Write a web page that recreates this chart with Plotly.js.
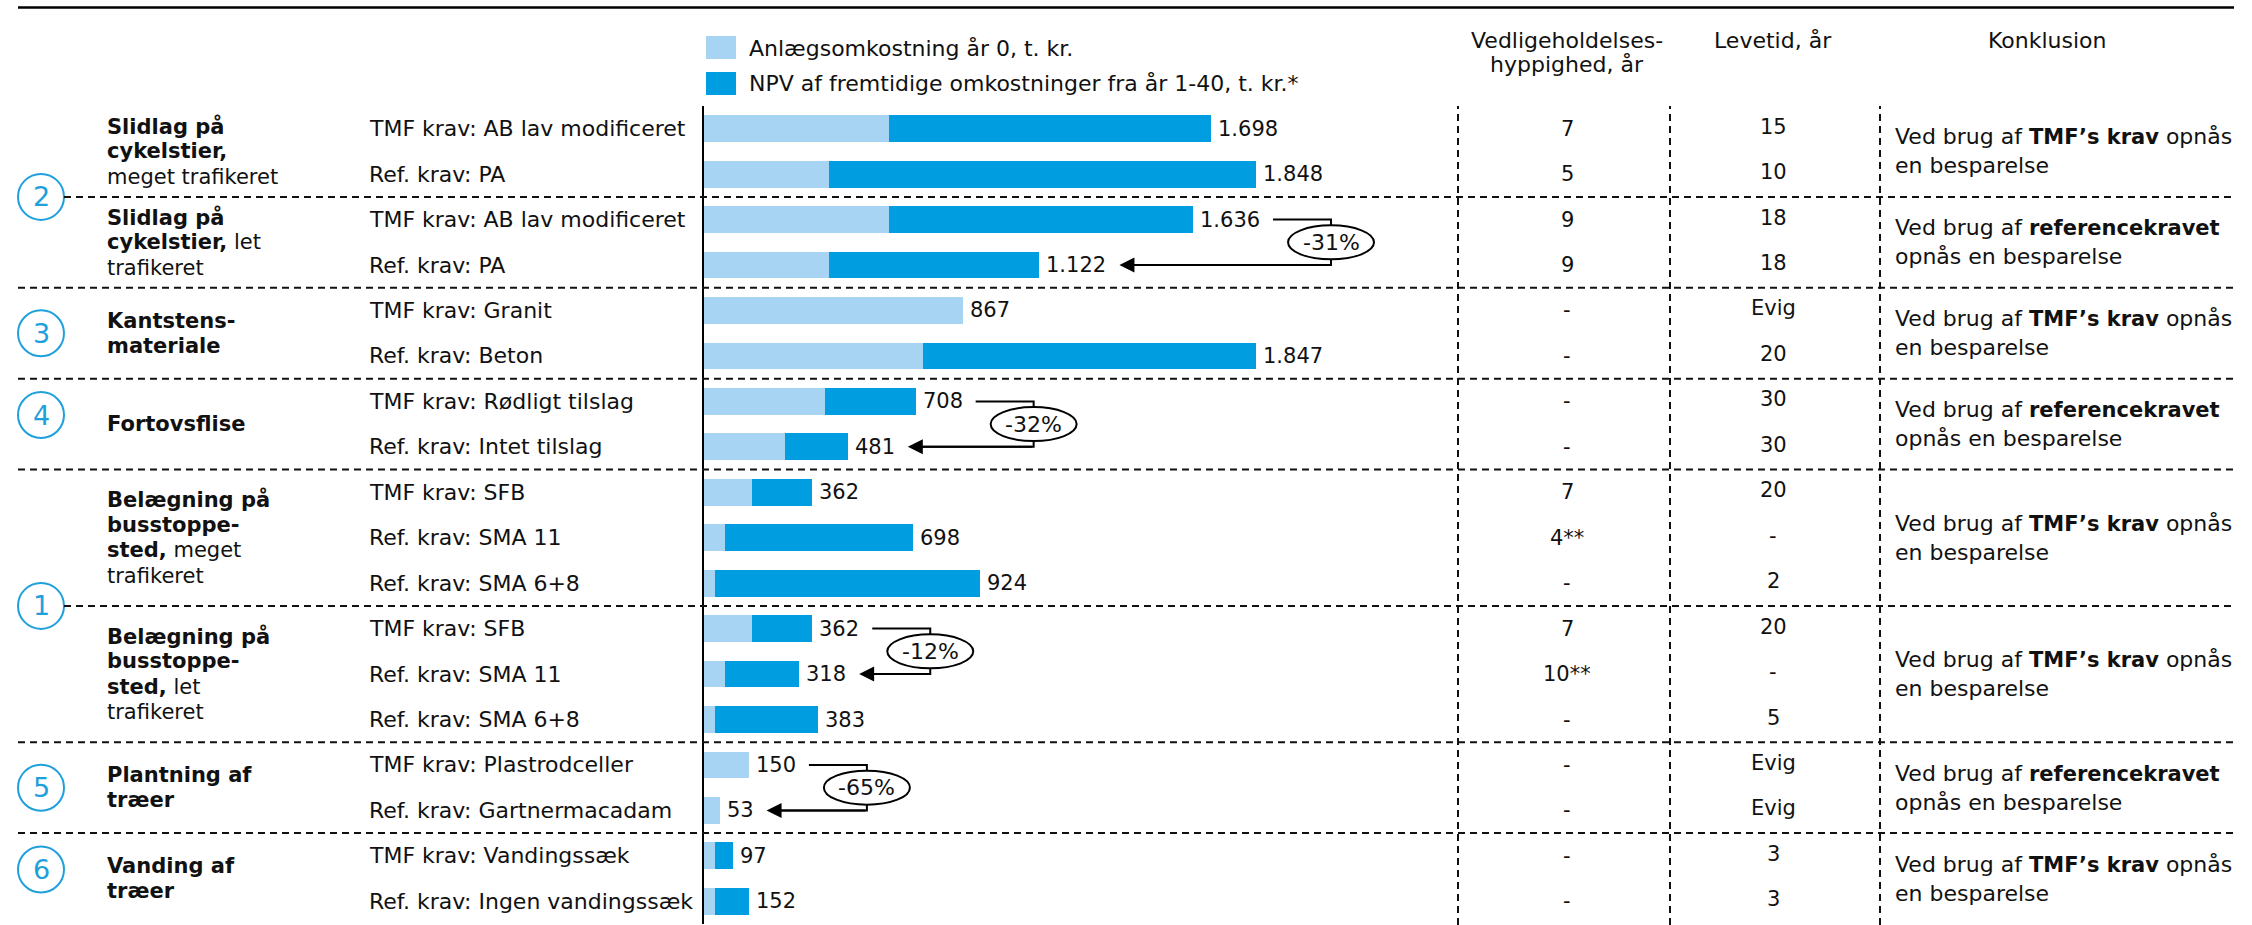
<!DOCTYPE html>
<html>
<head>
<meta charset="utf-8">
<script src="https://cdn.plot.ly/plotly-3.0.1.min.js"></script>
<style>
html,body{margin:0;padding:0;background:#fff;}
#chart{width:2252px;height:925px;}
</style>
</head>
<body>
<div id="chart"></div>
<script>
// ---------------- DATA ----------------
const rowLabels = [
  'TMF krav: AB lav modificeret', 'Ref. krav: PA',
  'TMF krav: AB lav modificeret', 'Ref. krav: PA',
  'TMF krav: Granit', 'Ref. krav: Beton',
  'TMF krav: Rødligt tilslag', 'Ref. krav: Intet tilslag',
  'TMF krav: SFB', 'Ref. krav: SMA 11', 'Ref. krav: SMA 6+8',
  'TMF krav: SFB', 'Ref. krav: SMA 11', 'Ref. krav: SMA 6+8',
  'TMF krav: Plastrodceller', 'Ref. krav: Gartnermacadam',
  'TMF krav: Vandingssæk', 'Ref. krav: Ingen vandingssæk'
];
// Anlægsomkostning år 0, t. kr.
const anlaeg = [619, 417, 619, 417, 867, 732, 404, 270, 162, 70, 36, 162, 70, 36, 150, 53, 36, 36];
// NPV af fremtidige omkostninger fra år 1-40, t. kr.
const npv    = [1079, 1431, 1017, 705, 0, 1115, 304, 211, 200, 628, 888, 200, 248, 347, 0, 0, 61, 116];

const vedligehold = ['7','5','9','9','-','-','-','-','7','4**','-','7','10**','-','-','-','-','-'];
const levetid     = ['15','10','18','18','Evig','20','30','30','20','-','2','20','-','5','Evig','Evig','3','3'];

const groupRows = [[0,1],[2,3],[4,5],[6,7],[8,9,10],[11,12,13],[14,15],[16,17]];
const groupLines = [
  [['Slidlag på',''], ['cykelstier,',''], ['','meget trafikeret']],
  [['Slidlag på',''], ['cykelstier,',' let'], ['','trafikeret']],
  [['Kantstens-',''], ['materiale','']],
  [['Fortovsflise','']],
  [['Belægning på',''], ['busstoppe-',''], ['sted,',' meget'], ['','trafikeret']],
  [['Belægning på',''], ['busstoppe-',''], ['sted,',' let'], ['','trafikeret']],
  [['Plantning af',''], ['træer','']],
  [['Vanding af',''], ['træer','']]
];
const conclusions = ['tmf','ref','tmf','ref','tmf','tmf','ref','tmf'];
const conclusionParts = {
  tmf: ['Ved brug af ', 'TMF’s krav', ' opnås', 'en besparelse'],
  ref: ['Ved brug af ', 'referencekravet', '', 'opnås en besparelse']
};
const savings = [
  {top: 2,  bottom: 3,  label: '-31%'},
  {top: 6,  bottom: 7,  label: '-32%'},
  {top: 11, bottom: 12, label: '-12%'},
  {top: 14, bottom: 15, label: '-65%'}
];
const circleNumbers = ['2','3','4','1','5','6'];
const legendNames = ['Anlægsomkostning år 0, t. kr.', 'NPV af fremtidige omkostninger fra år 1-40, t. kr.*'];
const headers = {vedl: ['Vedligeholdelses-', 'hyppighed, år'], lev: 'Levetid, år', konk: 'Konklusion'};

// ---------------- LAYOUT CONFIG ----------------
const W = 2252, H = 925;
const PLOT = {x0: 704, x1: 1458, y0: 106, y1: 924};
const XMAX = 2523;
const pxPerUnit = (PLOT.x1 - PLOT.x0) / XMAX;
const circleRowPos = [1.5, 4.5, 6.3, 10.5, 14.5, 16.3];
const sepRows = [1.5, 3.5, 5.5, 7.5, 10.5, 13.5, 15.5];
const colX = {label: 105, row: 367, vedl: 1567, lev: 1773, konk: 1893, konkHead: 2047, circle: 41};
const vLines = [1458, 1670, 1880];
const LIGHT = '#a8d4f3', DARK = '#009ee0', CIRC = '#1ea0dc';
const FONT = 'DejaVu Sans, Verdana, sans-serif';
const FS = 21;      // numbers
const FT = 22;      // regular text
const FB = 21;      // bold text
const FG = 21;      // group label text

const px = p => p / W;
const py = p => 1 - p / H;
const fmt = v => String(v).replace(/\B(?=(\d{3})+(?!\d))/g, '.');
const textW = s => { let w = 0; for (const c of s) w += (c === '.' ? 0.318 : 0.636); return w * FS; };
const bold = s => s ? `<span style="font-weight:bold;font-size:${FB}px">${s}</span>` : '';

const rows = rowLabels.map((_, i) => i);
const totals = anlaeg.map((v, i) => v + npv[i]);

const traces = [
  {type: 'bar', orientation: 'h', name: legendNames[0], y: rows, x: anlaeg,
   marker: {color: LIGHT, line: {width: 0}}, hoverinfo: 'skip'},
  {type: 'bar', orientation: 'h', name: legendNames[1], y: rows, x: npv,
   marker: {color: DARK, line: {width: 0}}, hoverinfo: 'skip'}
];

const fontN = {family: FONT, size: FS, color: '#111'};
const fontT = {family: FONT, size: FT, color: '#111'};
const fontG = {family: FONT, size: FG, color: '#111'};
const ann = [];
const shapes = [];

// row labels, values, table columns
rows.forEach(i => {
  ann.push({xref: 'paper', x: px(colX.row), xanchor: 'left', yref: 'y', y: i, yanchor: 'middle',
            text: rowLabels[i], showarrow: false, font: fontT});
  ann.push({xref: 'x', x: totals[i], xshift: 5, xanchor: 'left', yref: 'y', y: i, yanchor: 'middle',
            text: fmt(totals[i]), showarrow: false, font: fontN});
  ann.push({xref: 'paper', x: px(colX.vedl), xanchor: 'center', yref: 'y', y: i, yanchor: 'middle',
            text: vedligehold[i], showarrow: false, font: fontN});
  ann.push({xref: 'paper', x: px(colX.lev), xanchor: 'center', yref: 'y', y: i, yanchor: 'middle', yshift: 2,
            text: levetid[i], showarrow: false, font: fontN});
});

// group labels + conclusions
groupRows.forEach((g, gi) => {
  const yc = (g[0] + g[g.length - 1]) / 2;
  const lines = groupLines[gi];
  const n = lines.length;
  lines.forEach((t, k) => {
    ann.push({xref: 'paper', x: px(colX.label), xanchor: 'left', yref: 'y', y: yc, yanchor: 'middle',
              yshift: ((n - 1) / 2 - k) * 25.3, text: bold(t[0]) + t[1], showarrow: false, font: fontG});
  });
  const c = conclusionParts[conclusions[gi]];
  ann.push({xref: 'paper', x: px(colX.konk), xanchor: 'left', align: 'left', yref: 'y', y: yc, yanchor: 'middle',
            text: c[0] + bold(c[1]) + c[2] + '<br>' + c[3], showarrow: false, font: fontT});
});

// circles
circleNumbers.forEach((num, k) => {
  const r = circleRowPos[k];
  shapes.push({type: 'circle', xref: 'paper', x0: px(colX.circle - 23), x1: px(colX.circle + 23),
               yref: 'y', ysizemode: 'pixel', yanchor: r, y0: -23, y1: 23,
               line: {color: CIRC, width: 2}, fillcolor: 'rgba(0,0,0,0)'});
  ann.push({xref: 'paper', x: px(colX.circle), xanchor: 'center', yref: 'y', y: r, yanchor: 'middle',
            text: num, showarrow: false, font: {family: FONT, size: 27, color: CIRC}});
});

// separators
const dash = '7px,5px';
sepRows.forEach(r => {
  const start = circleRowPos.includes(r) ? colX.circle + 23 : 18;
  shapes.push({type: 'line', xref: 'paper', x0: px(start), x1: px(2234), yref: 'y', y0: r, y1: r,
               line: {color: '#111', width: 2, dash}});
});
vLines.forEach(x => {
  shapes.push({type: 'line', xref: 'paper', x0: px(x), x1: px(x), yref: 'paper', y0: 0, y1: py(PLOT.y0),
               line: {color: '#111', width: 2, dash}});
});
shapes.push({type: 'line', xref: 'paper', yref: 'paper', x0: px(18), x1: px(2234), y0: py(7.5), y1: py(7.5),
             line: {color: '#000', width: 2.5}});

// legend
[[LIGHT, 36, 59, 48], [DARK, 72, 95, 84]].forEach((d, k) => {
  shapes.push({type: 'rect', xref: 'paper', yref: 'paper', x0: px(706), x1: px(736), y0: py(d[2]), y1: py(d[1]),
               fillcolor: d[0], line: {width: 0}});
  ann.push({xref: 'paper', yref: 'paper', x: px(747), y: py(d[3]), xanchor: 'left', yanchor: 'middle',
            text: legendNames[k], showarrow: false, font: fontT});
});

// headers
ann.push({xref: 'paper', yref: 'paper', x: px(colX.vedl), y: py(40), xanchor: 'center', yanchor: 'middle',
          text: headers.vedl[0], showarrow: false, font: fontT});
ann.push({xref: 'paper', yref: 'paper', x: px(colX.vedl), y: py(65), xanchor: 'center', yanchor: 'middle',
          text: headers.vedl[1], showarrow: false, font: fontT});
ann.push({xref: 'paper', yref: 'paper', x: px(colX.lev), y: py(40), xanchor: 'center', yanchor: 'middle',
          text: headers.lev, showarrow: false, font: fontT});
ann.push({xref: 'paper', yref: 'paper', x: px(colX.konkHead), y: py(40), xanchor: 'center', yanchor: 'middle',
          text: headers.konk, showarrow: false, font: fontT});

// savings connectors
savings.forEach(s => {
  const tT = totals[s.top], tB = totals[s.bottom];
  const start = tT + (textW(fmt(tT)) + 20) / pxPerUnit;
  const mid = start + 58 / pxPerUnit;
  const tip = tB + (textW(fmt(tB)) + 20) / pxPerUnit;
  const tipEnd = tip + 8 / pxPerUnit;
  shapes.push({type: 'path', xref: 'x', yref: 'y', layer: 'above',
               path: `M ${start},${s.top} L ${mid},${s.top} L ${mid},${s.bottom} L ${tipEnd},${s.bottom}`,
               line: {color: '#000', width: 2}});
  const ym = (s.top + s.bottom) / 2;
  shapes.push({type: 'circle', xref: 'x', yref: 'y', layer: 'above',
               xsizemode: 'pixel', ysizemode: 'pixel', xanchor: mid, yanchor: ym,
               x0: -43, x1: 43, y0: -17, y1: 17,
               fillcolor: '#fff', line: {color: '#000', width: 2}});
  ann.push({xref: 'x', yref: 'y', x: mid, y: ym, xanchor: 'center', yanchor: 'middle',
            text: s.label, showarrow: false, font: fontT});
  ann.push({xref: 'x', yref: 'y', x: tip, y: s.bottom, axref: 'x', ayref: 'y', ax: mid, ay: s.bottom,
            text: '', showarrow: true, arrowhead: 2, arrowsize: 1.5, arrowwidth: 2, arrowcolor: '#000', standoff: 0});
});

const layout = {
  width: W, height: H,
  margin: {l: 0, r: 0, t: 0, b: 0, pad: 0},
  paper_bgcolor: '#fff', plot_bgcolor: 'rgba(0,0,0,0)',
  barmode: 'stack', bargap: 0.41,
  showlegend: false,
  font: {family: FONT, size: FT, color: '#111'},
  xaxis: {domain: [px(PLOT.x0), px(PLOT.x1)], range: [0, XMAX], visible: false, fixedrange: true},
  yaxis: {domain: [py(PLOT.y1), py(PLOT.y0)], range: [17.5, -0.5], showline: true, linecolor: '#000', linewidth: 2,
          showticklabels: false, ticks: '', showgrid: false, zeroline: false, fixedrange: true},
  shapes, annotations: ann
};

Plotly.newPlot('chart', traces, layout, {displayModeBar: false, staticPlot: true});
</script>
</body>
</html>
